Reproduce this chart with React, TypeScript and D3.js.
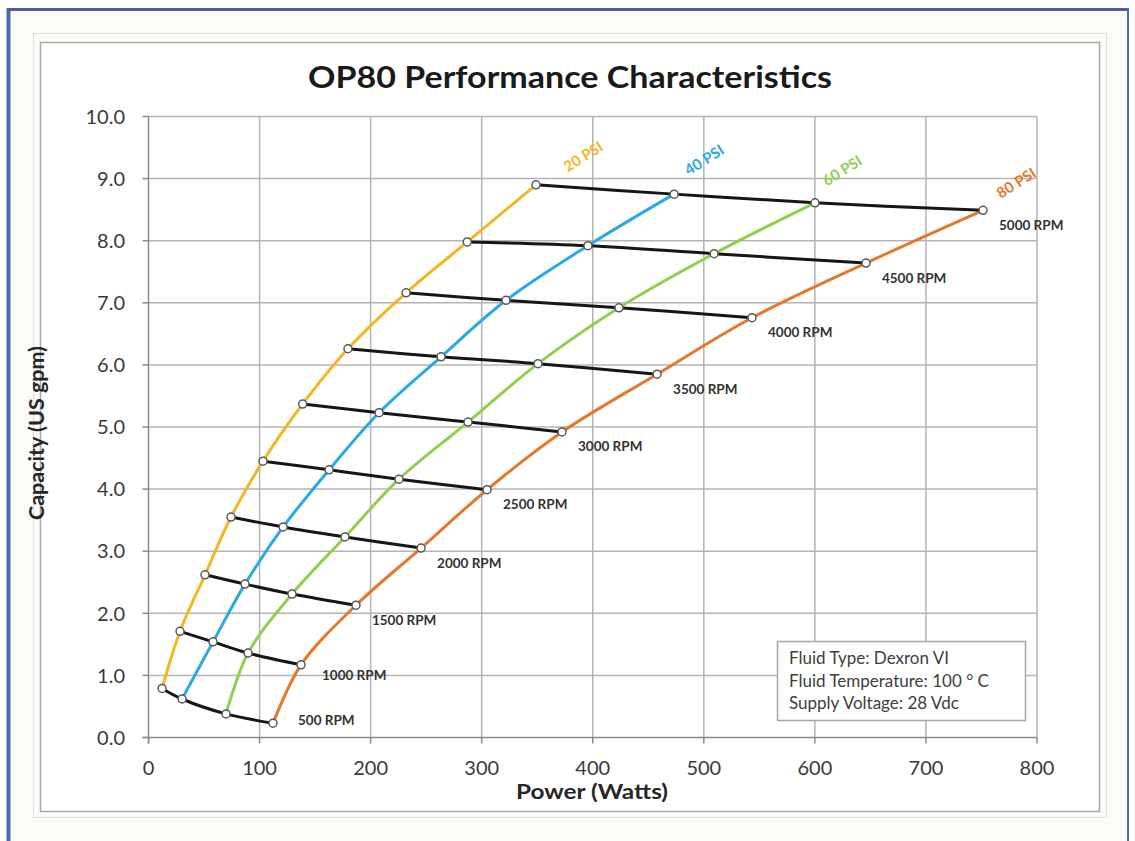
import * as d3 from "d3";

// OP80 pump map: power (W) vs capacity (US gpm) at 500..5000 RPM for 4 pressures
const rpmSteps = [500, 1000, 1500, 2000, 2500, 3000, 3500, 4000, 4500, 5000];
const psiNames = ["20 PSI", "40 PSI", "60 PSI", "80 PSI"];

const power20 = [12.2, 28.4, 50.9, 74.3, 103.1, 138.8, 179.6, 231.9, 287.0, 348.9];
const capacity20 = [0.79, 1.71, 2.62, 3.55, 4.45, 5.37, 6.26, 7.16, 7.98, 8.9];

const power40 = [30.2, 58.1, 86.9, 121.2, 162.6, 207.6, 263.4, 321.9, 395.7, 473.2];
const capacity40 = [0.62, 1.54, 2.47, 3.39, 4.31, 5.23, 6.13, 7.04, 7.92, 8.75];

const power60 = [69.8, 89.6, 129.2, 176.9, 225.5, 287.7, 350.7, 423.6, 509.2, 600.1];
const capacity60 = [0.38, 1.36, 2.31, 3.23, 4.16, 5.08, 6.02, 6.92, 7.79, 8.61];

const power80 = [112.1, 137.3, 186.8, 245.4, 304.8, 372.3, 457.9, 543.4, 646.0, 751.4];
const capacity80 = [0.23, 1.17, 2.13, 3.05, 3.99, 4.92, 5.85, 6.76, 7.64, 8.49];

const xTicks = [0, 100, 200, 300, 400, 500, 600, 700, 800];
const yTicks = [0, 1, 2, 3, 4, 5, 6, 7, 8, 9, 10];

const conditions = ["Fluid Type:  Dexron VI", "Fluid Temperature:  100 ° C", "Supply Voltage:  28 Vdc"];

const psiColors = ["#f2b824", "#2aaae2", "#92cf50", "#e4782c"];
const font = "Lato, 'Open Sans', sans-serif";

type Pt = { x: number; y: number };

const App = () => {
  const width = 1135;
  const height = 841;

  const x = d3.scaleLinear().domain([0, 800]).range([148.5, 1037]);
  const y = d3.scaleLinear().domain([0, 10]).range([737.5, 116.5]);

  const powers = [power20, power40, power60, power80];
  const caps = [capacity20, capacity40, capacity60, capacity80];

  const psiSeries: Pt[][] = powers.map((p, i) => p.map((v, j) => ({ x: v, y: caps[i][j] })));
  const rpmSeries: Pt[][] = rpmSteps.map((_, j) => psiSeries.map(s => s[j]));

  const line = d3.line<Pt>()
    .x(d => x(d.x))
    .y(d => y(d.y))
    .curve(d3.curveCatmullRom.alpha(0.5));

  // hand placed label nudges, as in the original sheet
  const psiLabelOffset = [[48, -27], [31, -33], [28, -31], [34, -26]];
  const rpmLabelOffset = (rpm: number) =>
    rpm === 500 ? [25, -2] : rpm === 1000 ? [21, 12] : [16, 16];

  return (
    <svg width={width} height={height} style={{ position: "absolute", left: 0, top: 0 }}>
      {/* outer window frame */}
      <rect x={0} y={0} width={width} height={height} fill="#ffffff" />
      <rect x={10} y={10} width={1117} height={840} fill="#fbfbf8" />
      <line x1={8.5} y1={8} x2={8.5} y2={height} stroke="#4a6cb3" strokeWidth={4} />
      <line x1={8} y1={9.5} x2={1129} y2={9.5} stroke="#4d5f96" strokeWidth={3} />
      <line x1={1128} y1={8} x2={1128} y2={height} stroke="#4a6cb3" strokeWidth={2} />
      <rect x={33.5} y={33.5} width={1073} height={784} fill="none" stroke="#e6dcdc" strokeWidth={1} />
      <rect x={40.5} y={42.5} width={1059} height={769} fill="#ffffff" stroke="#a9a9a9" strokeWidth={1.5} />

      {/* title */}
      <text
        x={570}
        y={88}
        textAnchor="middle"
        fontFamily={font}
        fontWeight="bold"
        fontSize={31}
        fill="#1a1a1a"
        textLength={524}
        lengthAdjust="spacingAndGlyphs"
      >
        OP80 Performance Characteristics
      </text>

      {/* grid */}
      <g stroke="#b4b4b4" strokeWidth={1.5}>
        {xTicks.slice(1).map(t => (
          <line key={"gx" + t} x1={x(t)} x2={x(t)} y1={y(10)} y2={y(0)} />
        ))}
        {yTicks.slice(1).map(t => (
          <line key={"gy" + t} x1={x(0)} x2={x(800)} y1={y(t)} y2={y(t)} />
        ))}
      </g>

      {/* axes */}
      <g stroke="#8a8a8a" strokeWidth={1.5}>
        <line x1={x(0)} x2={x(0)} y1={y(10)} y2={y(0) + 6} />
        <line x1={x(0) - 6} x2={x(800)} y1={y(0)} y2={y(0)} />
        {yTicks.map(t => (
          <line key={"ty" + t} x1={x(0) - 6} x2={x(0)} y1={y(t)} y2={y(t)} />
        ))}
        {xTicks.map(t => (
          <line key={"tx" + t} x1={x(t)} x2={x(t)} y1={y(0)} y2={y(0) + 6} />
        ))}
      </g>

      <g fontFamily={font} fontSize={20} fill="#3a3a3a">
        {yTicks.map(t => (
          <text key={"ly" + t} x={125} y={y(t)} dy="0.36em" textAnchor="end">
            {t.toFixed(1)}
          </text>
        ))}
        {xTicks.map(t => (
          <text key={"lx" + t} x={x(t)} y={775} textAnchor="middle">
            {t}
          </text>
        ))}
      </g>

      <text
        x={592}
        y={799}
        textAnchor="middle"
        fontFamily={font}
        fontWeight="bold"
        fontSize={21}
        fill="#262626"
        textLength={152}
        lengthAdjust="spacingAndGlyphs"
      >
        Power (Watts)
      </text>
      <text
        transform="translate(44,433) rotate(-90)"
        textAnchor="middle"
        fontFamily={font}
        fontWeight="bold"
        fontSize={20}
        fill="#262626"
        textLength={174}
        lengthAdjust="spacingAndGlyphs"
      >
        Capacity (US gpm)
      </text>

      {/* pressure curves */}
      {psiSeries.map((s, i) => (
        <path key={"psi" + i} d={line(s) ?? ""} fill="none" stroke={psiColors[i]} strokeWidth={3} />
      ))}

      {/* speed lines */}
      {rpmSeries.map((s, j) => (
        <path key={"rpm" + j} d={line(s) ?? ""} fill="none" stroke="#161616" strokeWidth={3} />
      ))}

      {/* markers */}
      {psiSeries.map((s, i) =>
        s.map((d, j) => (
          <circle key={"m" + i + "-" + j} cx={x(d.x)} cy={y(d.y)} r={4} fill="#ffffff" stroke="#595959" strokeWidth={1.5} />
        ))
      )}

      {/* PSI labels */}
      {psiSeries.map((s, i) => {
        const top = s[s.length - 1];
        const [dx, dy] = psiLabelOffset[i];
        return (
          <text
            key={"pl" + i}
            transform={`translate(${x(top.x) + dx},${y(top.y) + dy}) rotate(-32)`}
            textAnchor="middle"
            dominantBaseline="middle"
            fontFamily={font}
            fontWeight="bold"
            fontSize={15}
            fill={psiColors[i]}
          >
            {psiNames[i]}
          </text>
        );
      })}

      {/* RPM labels next to the 80 PSI end */}
      {rpmSteps.map((rpm, j) => {
        const d = psiSeries[3][j];
        const [dx, dy] = rpmLabelOffset(rpm);
        return (
          <text
            key={"rl" + rpm}
            x={x(d.x) + dx}
            y={y(d.y) + dy}
            dominantBaseline="middle"
            fontFamily={font}
            fontWeight="bold"
            fontSize={13.5}
            fill="#333333"
          >
            {rpm} RPM
          </text>
        );
      })}

      {/* conditions box */}
      <rect x={777.5} y={641.5} width={248} height={79} fill="#ffffff" stroke="#a6a6a6" strokeWidth={1.5} />
      <g fontFamily={font} fontSize={17} fill="#404040">
        {conditions.map((c, k) => (
          <text key={"c" + k} x={789} y={664 + k * 22.5}>
            {c}
          </text>
        ))}
      </g>
    </svg>
  );
};

export default App;
